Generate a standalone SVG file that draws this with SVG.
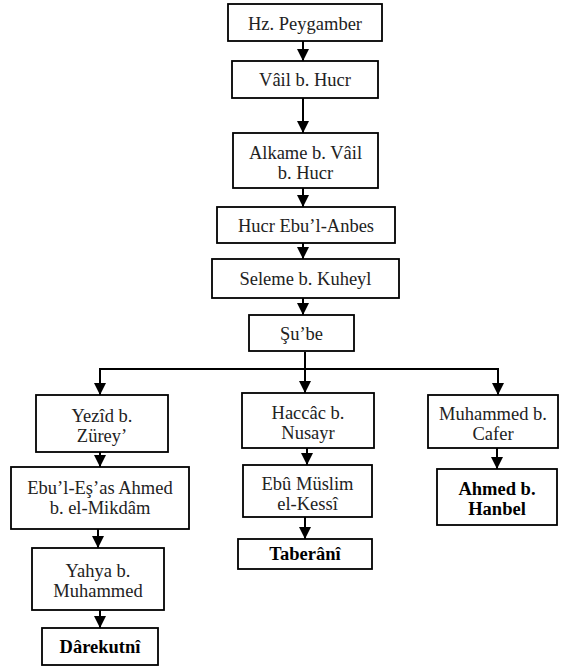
<svg xmlns="http://www.w3.org/2000/svg" width="561" height="669" viewBox="0 0 561 669">
<style>
.b{fill:#fff;stroke:#000;stroke-width:1.8}
.t{font-family:"Liberation Serif","Times New Roman",serif;font-size:18.5px;fill:#222;text-anchor:middle}
.bd{font-weight:bold;fill:#000}
.c{fill:none;stroke:#000;stroke-width:2}
</style>
<defs>
<marker id="ah" markerUnits="userSpaceOnUse" markerWidth="12" markerHeight="12" viewBox="0 0 12 12" refX="12" refY="6" orient="auto">
<path d="M0,0 L12,6 L0,12 Z" fill="#000"/>
</marker>
</defs>
<rect width="561" height="669" fill="#fff"/>
<g id="connectors">
<line class="c" x1="303" y1="41" x2="303" y2="61" marker-end="url(#ah)"/>
<line class="c" x1="303" y1="98" x2="303" y2="133" marker-end="url(#ah)"/>
<line class="c" x1="303" y1="188" x2="303" y2="207" marker-end="url(#ah)"/>
<line class="c" x1="303" y1="243" x2="303" y2="259" marker-end="url(#ah)"/>
<line class="c" x1="303" y1="298" x2="303" y2="315" marker-end="url(#ah)"/>
<path class="c" d="M305,352 V369 M99,369 H499"/>
<line class="c" x1="100" y1="368" x2="100" y2="395" marker-end="url(#ah)"/>
<line class="c" x1="305" y1="369" x2="305" y2="393" marker-end="url(#ah)"/>
<line class="c" x1="498" y1="368" x2="498" y2="395" marker-end="url(#ah)"/>
<line class="c" x1="100" y1="452" x2="100" y2="467" marker-end="url(#ah)"/>
<line class="c" x1="98" y1="529" x2="98" y2="548" marker-end="url(#ah)"/>
<line class="c" x1="100" y1="610" x2="100" y2="628" marker-end="url(#ah)"/>
<line class="c" x1="307" y1="448" x2="307" y2="465" marker-end="url(#ah)"/>
<line class="c" x1="305" y1="517" x2="305" y2="539" marker-end="url(#ah)"/>
<line class="c" x1="497" y1="448" x2="497" y2="469" marker-end="url(#ah)"/>
</g>
<g id="hz"><rect class="b" x="228" y="4" width="154" height="37"/><text class="t" x="305" y="29.5">Hz. Peygamber</text></g>
<g id="vail"><rect class="b" x="232" y="61" width="146" height="37"/><text class="t" x="305" y="86">Vâil b. Hucr</text></g>
<g id="alkame"><rect class="b" x="233" y="133" width="145" height="55"/><text class="t" x="305.5" y="159">Alkame b. Vâil</text><text class="t" x="305.5" y="179">b. Hucr</text></g>
<g id="hucr"><rect class="b" x="217" y="207" width="178" height="36"/><text class="t" x="306" y="231.5">Hucr Ebu’l-Anbes</text></g>
<g id="seleme"><rect class="b" x="212" y="259" width="187" height="39"/><text class="t" x="305.5" y="285">Seleme b. Kuheyl</text></g>
<g id="sube"><rect class="b" x="249" y="315" width="105" height="36"/><text class="t" x="301.5" y="339.5">Şu’be</text></g>
<g id="yezid"><rect class="b" x="36" y="395" width="132" height="57"/><text class="t" x="102" y="422">Yezîd b.</text><text class="t" x="102" y="442">Zürey’</text></g>
<g id="ebuleşas"><rect class="b" x="11" y="467" width="178" height="62"/><text class="t" x="100" y="494">Ebu’l-Eş’as Ahmed</text><text class="t" x="100" y="514">b. el-Mikdâm</text></g>
<g id="yahya"><rect class="b" x="32" y="548" width="132" height="62"/><text class="t" x="98" y="577">Yahya b.</text><text class="t" x="98" y="597">Muhammed</text></g>
<g id="darekutni"><rect class="b" x="42" y="628" width="116" height="37"/><text class="t bd" x="100" y="653">Dârekutnî</text></g>
<g id="haccac"><rect class="b" x="242" y="393" width="132" height="55"/><text class="t" x="308" y="419">Haccâc b.</text><text class="t" x="308" y="439">Nusayr</text></g>
<g id="ebumuslim"><rect class="b" x="243" y="465" width="129" height="52"/><text class="t" x="307.5" y="490">Ebû Müslim</text><text class="t" x="307.5" y="510">el-Kessî</text></g>
<g id="taberani"><rect class="b" x="238" y="539" width="134" height="30"/><text class="t bd" x="305" y="560">Taberânî</text></g>
<g id="muhammed"><rect class="b" x="428" y="395" width="130" height="53"/><text class="t" x="493" y="420">Muhammed b.</text><text class="t" x="493" y="440">Cafer</text></g>
<g id="ahmed"><rect class="b" x="437" y="469" width="120" height="56"/><text class="t bd" x="497" y="495">Ahmed b.</text><text class="t bd" x="497" y="515">Hanbel</text></g>
</svg>
